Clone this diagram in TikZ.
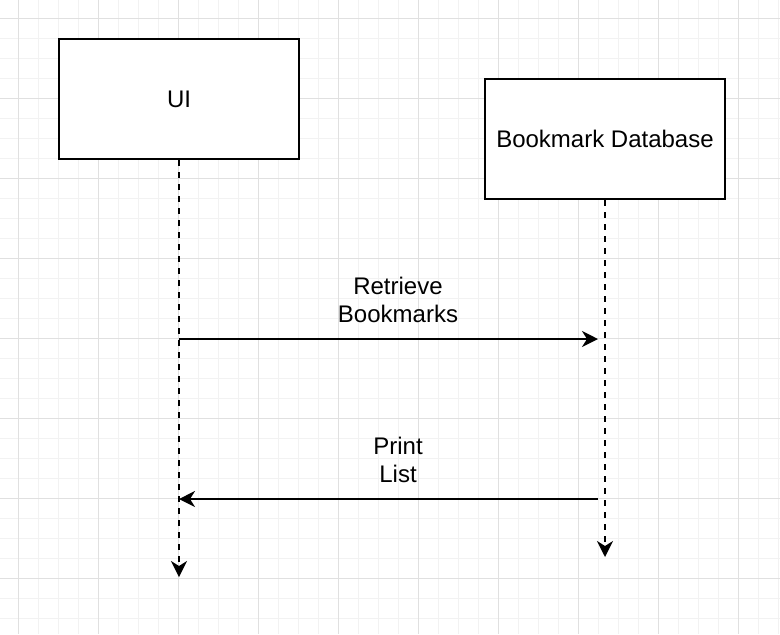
\documentclass[tikz,border=0pt]{standalone}
\usepackage{fontspec}
\setmainfont{Liberation Sans}
\usetikzlibrary{arrows.meta, positioning}
\definecolor{gridminor}{HTML}{F2F2F2}
\definecolor{gridmajor}{HTML}{E0E0E0}
\tikzset{
    actor/.style={
        rectangle,
        draw=black,
        line width=1pt,
        minimum width=120pt,
        minimum height=60pt,
        fill=white,
        font=\fontsize{12}{14}\selectfont
    },
    lifeline/.style={
        draw=black,
        line width=1pt,
        dash pattern=on 3pt off 3pt,
        -{Stealth[length=8pt, width=8pt, inset=2.5pt]}
    },
    message/.style={
        draw=black,
        line width=1pt,
        -{Stealth[length=8pt, width=8pt, inset=2.5pt]}
    },
    msglabel/.style={
        font=\fontsize{12}{14}\selectfont,
        align=center,
        inner sep=0pt
    },
    minorline/.style={draw=gridminor, line width=0.5pt},
    majorline/.style={draw=gridmajor, line width=0.5pt}
}

\begin{document}
\begin{tikzpicture}[x=0.5pt, y=-0.5pt]
\useasboundingbox (0,0) rectangle (780,634);
\fill[white] (0,0) rectangle (780,634);

% Background grid
\foreach \gx in {-2,18,...,778} {\draw[minorline] (\gx,0) -- (\gx,634);}
\foreach \gy in {18,38,...,618} {\draw[minorline] (0,\gy) -- (780,\gy);}
\foreach \gx in {18,98,...,738} {\draw[majorline] (\gx,0) -- (\gx,634);}
\foreach \gy in {18,98,...,578} {\draw[majorline] (0,\gy) -- (780,\gy);}

% Participants
\node[actor] (ui) at (179,99) {UI};
\node[actor] (db) at (605,139) {Bookmark Database};

% Lifeline ends
\coordinate (uiend) at (179,577);
\coordinate (dbend) at (605,557);

% Message points
\coordinate (uireq) at (179,339);
\coordinate (dbreq) at (598,339);
\coordinate (dbres) at (598,499);
\coordinate (uires) at (179,499);

% Lifelines
\draw[lifeline] (ui.south) -- (uiend);
\draw[lifeline] (db.south) -- (dbend);

% Messages
\draw[message] (uireq) -- (dbreq);
\node[msglabel] (retrieve) at (398,300) {Retrieve\\Bookmarks};

\draw[message] (dbres) -- (uires);
\node[msglabel] (print) at (398,460) {Print\\List};

\end{tikzpicture}
\end{document}
